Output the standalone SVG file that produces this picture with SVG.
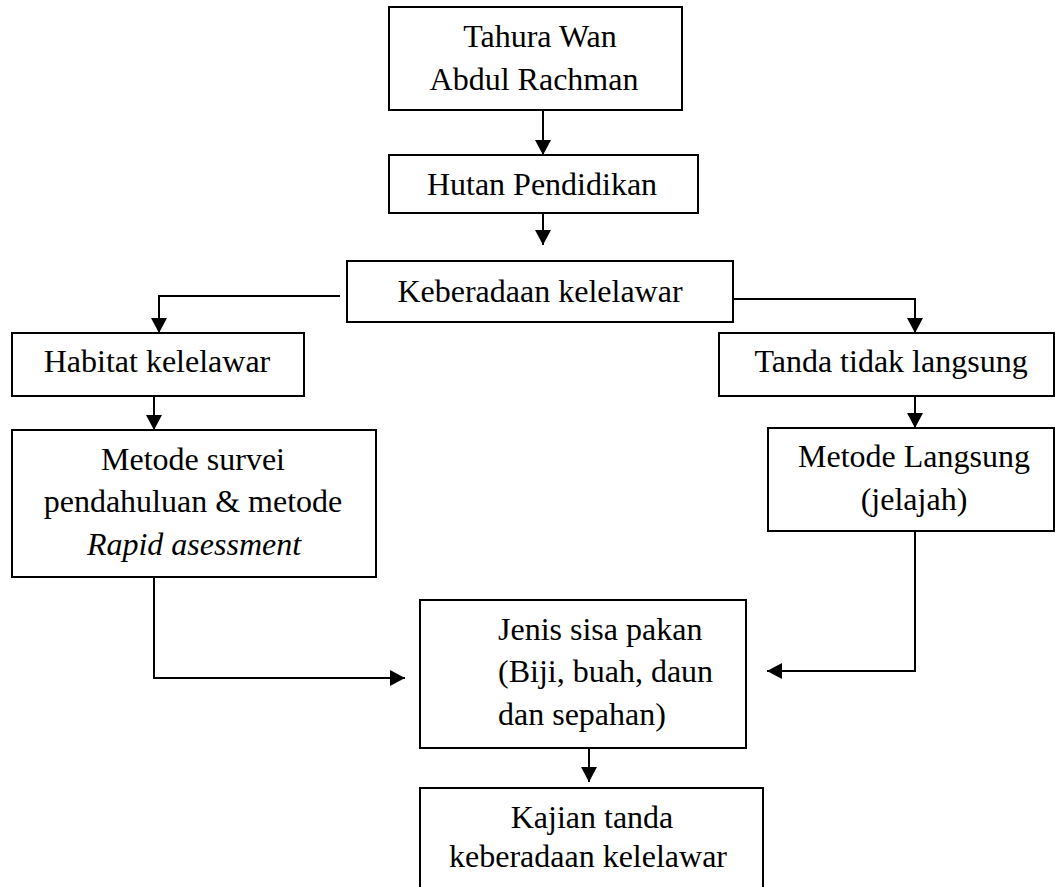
<svg xmlns="http://www.w3.org/2000/svg" width="1055" height="887" viewBox="0 0 1055 887">
<style>
.box{fill:#fff;stroke:#000;stroke-width:2}
.t{font-family:"Liberation Serif","Times New Roman",serif;font-size:32px;fill:#000}
.m{text-anchor:middle}
.c{fill:none;stroke:#000;stroke-width:2}
</style>
<defs>
<marker id="ah" markerUnits="userSpaceOnUse" markerWidth="16" markerHeight="16" refX="15" refY="8" orient="auto">
<path d="M0,0 L15,8 L0,16 z" fill="#000"/>
</marker>
</defs>
<rect width="1055" height="887" fill="#fff"/>
<g id="connectors">
<path class="c" d="M543,110 V155" marker-end="url(#ah)"/>
<path class="c" d="M543,213 V245" marker-end="url(#ah)"/>
<path class="c" d="M340,296 H159 V333" marker-end="url(#ah)"/>
<path class="c" d="M733,299 H915 V333" marker-end="url(#ah)"/>
<path class="c" d="M154,396 V430" marker-end="url(#ah)"/>
<path class="c" d="M915,396 V428" marker-end="url(#ah)"/>
<path class="c" d="M154,577 V678 H405" marker-end="url(#ah)"/>
<path class="c" d="M915,531 V671 H767" marker-end="url(#ah)"/>
<path class="c" d="M589,748 V782" marker-end="url(#ah)"/>
</g>
<g id="n1">
<rect class="box" x="389" y="7" width="293" height="103"/>
<text class="t m" x="540" y="47">Tahura Wan</text>
<text class="t m" x="534" y="90">Abdul Rachman</text>
</g>
<g id="n2">
<rect class="box" x="389" y="155" width="309" height="58"/>
<text class="t m" x="542" y="195">Hutan Pendidikan</text>
</g>
<g id="n3">
<rect class="box" x="347" y="261" width="386" height="61"/>
<text class="t m" x="540" y="302">Keberadaan kelelawar</text>
</g>
<g id="n4">
<rect class="box" x="12" y="333" width="292" height="63"/>
<text class="t m" x="157" y="372">Habitat kelelawar</text>
</g>
<g id="n5">
<rect class="box" x="719" y="333" width="335" height="63"/>
<text class="t m" x="891" y="372">Tanda tidak langsung</text>
</g>
<g id="n6">
<rect class="box" x="12" y="430" width="364" height="147"/>
<text class="t m" x="193" y="470">Metode survei</text>
<text class="t m" x="193" y="512">pendahuluan &amp; metode</text>
<text class="t m" x="194" y="555" font-style="italic">Rapid asessment</text>
</g>
<g id="n7">
<rect class="box" x="768" y="428" width="286" height="103"/>
<text class="t m" x="914" y="467">Metode Langsung</text>
<text class="t m" x="914" y="510">(jelajah)</text>
</g>
<g id="n8">
<rect class="box" x="420" y="600" width="326" height="148"/>
<text class="t" x="498" y="640">Jenis sisa pakan</text>
<text class="t" x="498" y="682">(Biji, buah, daun</text>
<text class="t" x="498" y="725">dan sepahan)</text>
</g>
<g id="n9">
<rect class="box" x="420" y="788" width="343" height="120"/>
<text class="t m" x="592" y="828">Kajian tanda</text>
<text class="t m" x="588" y="867">keberadaan kelelawar</text>
</g>
</svg>
